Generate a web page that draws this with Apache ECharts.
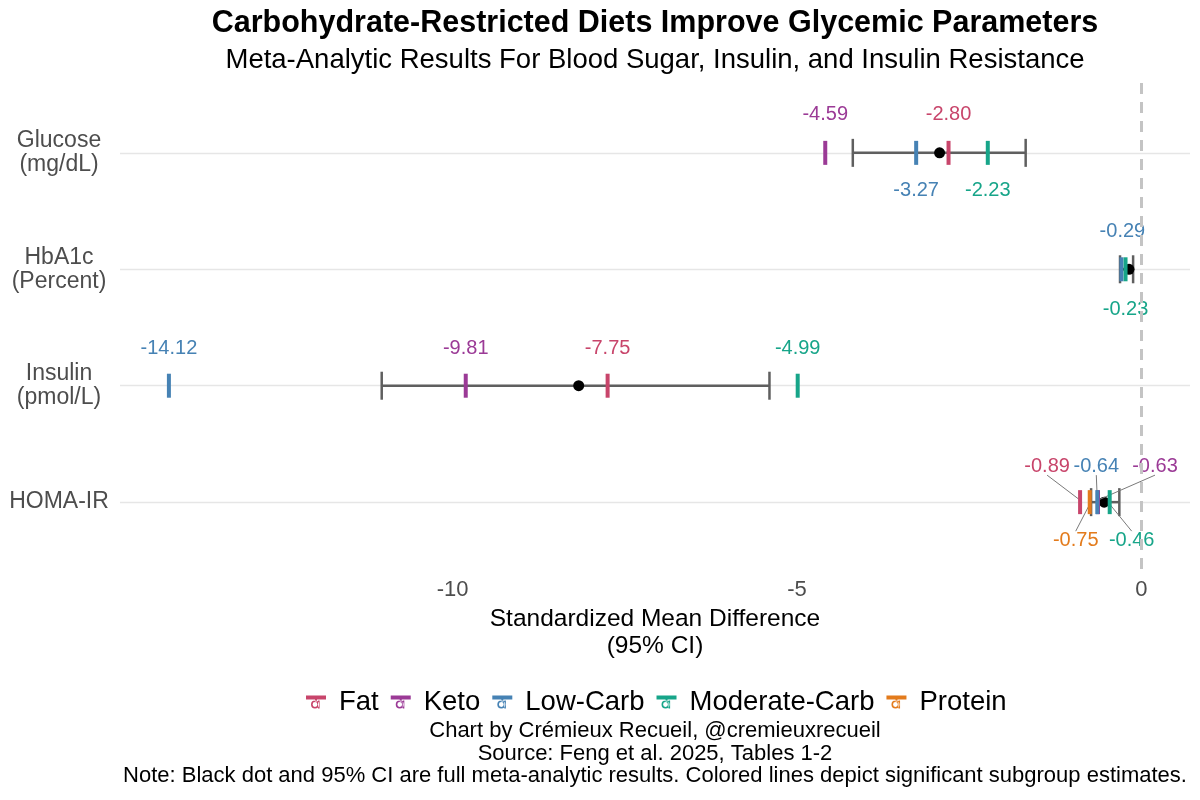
<!DOCTYPE html>
<html>
<head>
<meta charset="utf-8">
<script src="https://cdn.jsdelivr.net/npm/echarts@6/dist/echarts.min.js"></script>
<style>
html,body{margin:0;padding:0;background:#fff;}
#chart{width:1200px;height:800px;}
</style>
</head>
<body>
<div id="chart"></div>
<script>
// ---------- DATA ----------
const categories = ['Glucose\n(mg/dL)', 'HbA1c\n(Percent)', 'Insulin\n(pmol/L)', 'HOMA-IR'];
const overallEst  = [-2.93, -0.18, -8.17, -0.54];
const overallLow  = [-4.19, -0.31, -11.03, -0.73];
const overallHigh = [-1.68, -0.12, -5.40, -0.32];

const dietNames = ['Fat', 'Keto', 'Low-Carb', 'Moderate-Carb', 'Protein'];
const fatValues          = [-2.80, null, -7.75, -0.89];
const ketoValues         = [-4.59, null, -9.81, -0.63];
const lowCarbValues      = [-3.27, -0.29, -14.12, -0.64];
const moderateCarbValues = [-2.23, -0.23, -4.99, -0.46];
const proteinValues      = [null, null, null, -0.75];
const xTickValues = [-10, -5, 0];

// ---------- STYLE ----------
const dietColors = ['#c8456b', '#9b3a96', '#4682b4', '#17a589', '#e37b1c'];
// label offsets in pixels [dx, dy, leaderLine] per diet per category
const labelOffsets = [
  [[0, -38, 0], null, [0, -37, 0], [-33, -36, 1]],
  [[0, -38, 0], null, [0, -37, 0], [57, -36, 1]],
  [[0, 38, 0], [1, -38, 0], [0, -37, 0], [-1, -36, 1]],
  [[0, 38, 0], [0, 40, 0], [0, -37, 0], [22, 38, 1]],
  [null, null, null, [-14, 38, 1]]
];
const FONT = "'Liberation Sans', Arial, sans-serif";

const allValues = [fatValues, ketoValues, lowCarbValues, moderateCarbValues, proteinValues];

const chart = echarts.init(document.getElementById('chart'), null, {renderer: 'canvas'});

function overallRender(params, api) {
  const y = api.value(0);
  const lo = api.coord([api.value(1), y]);
  const hi = api.coord([api.value(2), y]);
  const est = api.coord([api.value(3), y]);
  const cap = 14;
  const ls = {stroke: '#5f5f5f', lineWidth: 2.5};
  return {
    type: 'group',
    children: [
      {type: 'line', shape: {x1: lo[0], y1: lo[1], x2: hi[0], y2: hi[1]}, style: ls},
      {type: 'line', shape: {x1: lo[0], y1: lo[1] - cap, x2: lo[0], y2: lo[1] + cap}, style: ls},
      {type: 'line', shape: {x1: hi[0], y1: hi[1] - cap, x2: hi[0], y2: hi[1] + cap}, style: ls},
      {type: 'circle', shape: {cx: est[0], cy: est[1], r: 5.5}, style: {fill: '#000'}}
    ]
  };
}

function makeDietRender(di) {
  return function (params, api) {
    const v = api.value(0);
    const cat = api.value(1);
    const p = api.coord([v, cat]);
    const off = labelOffsets[di][cat - 1] || [0, -38, 0];
    const color = dietColors[di];
    const lx = p[0] + off[0];
    const ly = p[1] + off[1];
    const children = [
      {type: 'rect', shape: {x: p[0] - 2, y: p[1] - 12, width: 4, height: 24}, style: {fill: color}, z2: 5}
    ];
    if (off[2]) {
      const sy = ly + (off[1] < 0 ? 9 : -9);
      children.push({type: 'line', shape: {x1: lx, y1: sy, x2: p[0], y2: p[1] + (off[1] < 0 ? -2 : 2)},
        style: {stroke: '#7a7a7a', lineWidth: 1}, z2: 3});
    }
    children.push({type: 'text', x: lx, y: ly, style: {
      text: v.toFixed(2), fill: color, font: '20px ' + FONT, align: 'center', verticalAlign: 'middle'
    }, z2: 10});
    return {type: 'group', children: children};
  };
}

const series = [{
  type: 'custom',
  name: 'overall',
  renderItem: overallRender,
  encode: {x: [1, 2, 3], y: 0},
  data: categories.map((c, i) => [i + 1, overallLow[i], overallHigh[i], overallEst[i]]),
  z: 2,
  markLine: {
    silent: true, symbol: 'none', label: {show: false},
    lineStyle: {type: [11, 8], color: '#c4c4c4', width: 3},
    data: [{xAxis: 0}]
  }
}];

dietNames.forEach((name, di) => {
  const data = [];
  allValues[di].forEach((v, ci) => { if (v !== null) data.push([v, ci + 1]); });
  series.push({
    type: 'custom', name: name, renderItem: makeDietRender(di),
    encode: {x: 0, y: 1}, data: data, z: 3, clip: false,
    itemStyle: {color: dietColors[di]}
  });
});

const legendIcon = 'path://M0,3 H20 V7 H0 Z M9,3 H11 V9 H9 Z M5,12 A4,4 0 1,0 13,12 A4,4 0 1,0 5,12 Z M6.6,12 A2.4,2.4 0 1,1 11.4,12 A2.4,2.4 0 1,1 6.6,12 Z M12,8 H13.6 V16 H12 Z';

const option = {
  animation: false,
  backgroundColor: '#ffffff',
  textStyle: {fontFamily: FONT},
  title: [
    {text: 'Carbohydrate-Restricted Diets Improve Glycemic Parameters', left: 655, top: 8, textAlign: 'center', padding: 0,
     textStyle: {fontSize: 30.5, fontWeight: 'bold', color: '#000', fontFamily: FONT}},
    {text: 'Meta-Analytic Results For Blood Sugar, Insulin, and Insulin Resistance', left: 655, top: 46, textAlign: 'center', padding: 0,
     textStyle: {fontSize: 27.5, fontWeight: 'normal', color: '#000', fontFamily: FONT}},
    {text: 'Chart by Crémieux Recueil, @cremieuxrecueil\nSource: Feng et al. 2025, Tables 1-2\nNote: Black dot and 95% CI are full meta-analytic results. Colored lines depict significant subgroup estimates.',
     left: 655, top: 720, textAlign: 'center', padding: 0,
     textStyle: {fontSize: 22, fontWeight: 'normal', color: '#000', fontFamily: FONT, lineHeight: 22.5, align: 'center'}}
  ],
  legend: {
    data: dietNames.map((n, i) => ({name: n, icon: legendIcon, itemStyle: {color: dietColors[i]}})),
    left: 301, top: 683, itemWidth: 20, itemHeight: 16, itemGap: 12,
    textStyle: {fontSize: 27.5, color: '#000', fontFamily: FONT, padding: [0, 0, 0, 8]}
  },
  grid: {left: 120, right: 10, top: 83, bottom: 228, containLabel: false},
  xAxis: {
    type: 'value', min: -14.83, max: 0.706,
    axisLine: {show: false}, axisTick: {show: false}, splitLine: {show: false},
    axisLabel: {customValues: xTickValues, color: '#4d4d4d', fontSize: 22, margin: 7, fontFamily: FONT},
    name: 'Standardized Mean Difference\n(95% CI)', nameLocation: 'middle', nameGap: 32,
    nameTextStyle: {fontSize: 24.5, color: '#000', lineHeight: 27, verticalAlign: 'top', fontFamily: FONT}
  },
  yAxis: {
    type: 'value', min: 0.4, max: 4.6, inverse: true,
    axisLine: {show: false},
    axisTick: {show: false, customValues: [1, 2, 3, 4]},
    splitLine: {show: true, lineStyle: {color: '#e6e6e6', width: 1.4}},
    axisLabel: {
      customValues: [1, 2, 3, 4], margin: 6,
      formatter: function (v) { return '{c|' + categories[Math.round(v) - 1] + '}'; },
      rich: {c: {width: 110, align: 'center', fontSize: 23, lineHeight: 24, color: '#4d4d4d', fontFamily: FONT}}
    }
  },
  series: series
};
chart.setOption(option);
</script>
</body>
</html>
